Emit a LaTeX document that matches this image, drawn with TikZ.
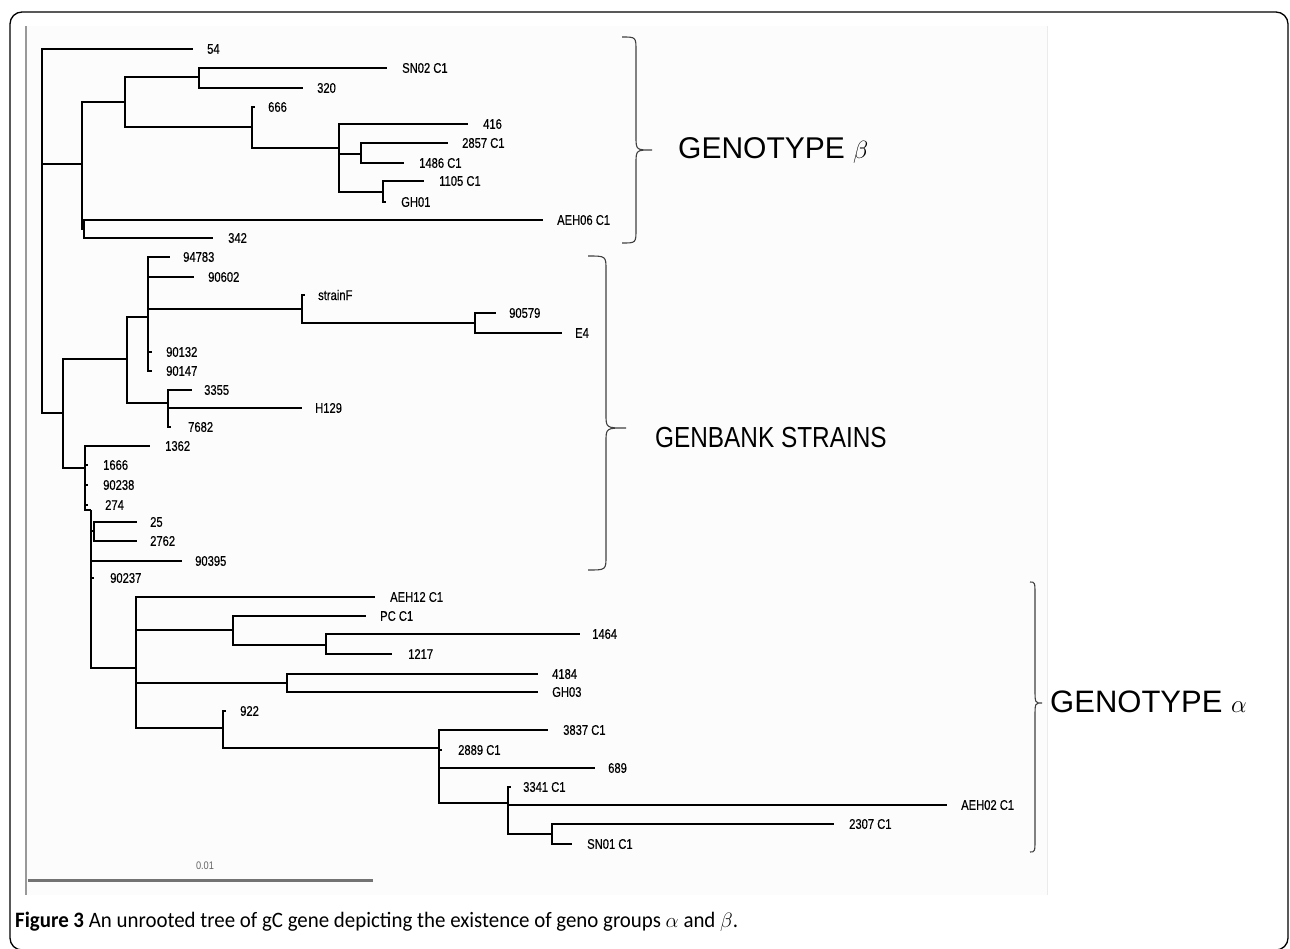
\documentclass[tikz,border=0pt]{standalone}
\usepackage{fontspec}
\setmainfont{Liberation Sans}
\newfontfamily\leaffont[FakeStretch=0.8,FakeBold=0.5]{Liberation Sans}
\newfontfamily\narrowfont[FakeStretch=0.84]{Liberation Sans}
\newfontfamily\capfont[FakeStretch=0.95]{Carlito}
\newcommand{\leafnode}[6]{\coordinate (t#1) at (#3,#4); \node[leaf] (l#1) at (#5,#4) {#6}; \draw[br] (#2) |- (t#1);}
\newcommand{\inode}[4]{\coordinate (#1) at (#3,#4); \draw[br] (#2) |- (#1);}
\newcommand{\bracepath}[6]{\draw[brace] (#1,#4) .. controls (#2,#4) .. (#2,#4+14) -- (#2,#5-14) .. controls (#2,#5) .. (#3,#5) .. controls (#2,#5) .. (#2,#5+14) -- (#2,#6-14) .. controls (#2,#6) .. (#1,#6);}
\begin{document}
\begin{tikzpicture}[x=1pt,y=-1pt,
  br/.style={line width=1.7pt},
  leaf/.style={anchor=west,inner sep=0pt,font=\leaffont\fontsize{14}{14}\selectfont},
  grp/.style={anchor=west,inner sep=0pt,font=\fontsize{30}{30}\selectfont},
  brace/.style={line width=1.1pt,draw=black!75}]
\useasboundingbox (0,0) rectangle (1290,948);
\fill[white] (0,0) rectangle (1290,948);
\fill[black!1] (26,26) rectangle (1047,895);
\draw[line width=0.8pt,black!8] (1047,26) -- (1047,895);
\draw[line width=2.5pt,black!40] (26,26) -- (26,895);
\draw[line width=1.3pt,rounded corners=12pt] (10,12) rectangle (1288,950);
% scale bar
\draw[line width=3pt,black!55] (28,880) -- (373,880);
\node[inner sep=0pt,font=\narrowfont\fontsize{11}{11}\selectfont,text=black!60] (sc) at (205,866) {0.01};
% root
\coordinate (R) at (42,164);
\leafnode{54}{R}{193}{49}{207}{54}
\coordinate (B) at (82,164); \draw[br] (R) -- (B);
\inode{G}{R}{63}{413}
% genotype beta part
\inode{B1}{B}{125}{102}
\inode{B2}{B}{84}{229}
\leafnode{AEH06}{B2}{543}{220}{557}{AEH06 C1}
\leafnode{342}{B2}{213}{238}{228}{342}
\inode{B11}{B1}{199}{77}
\inode{B12}{B1}{252}{127}
\leafnode{SN02}{B11}{387}{68}{402}{SN02 C1}
\leafnode{320}{B11}{303}{88}{317}{320}
\leafnode{666}{B12}{255}{107}{268}{666}
\inode{B121}{B12}{339}{148}
\leafnode{416}{B121}{468}{124}{483}{416}
\inode{B1211}{B121}{361}{154}
\inode{B1212}{B121}{383}{192}
\leafnode{2857}{B1211}{448}{143}{462}{2857 C1}
\leafnode{1486}{B1211}{404}{163}{419}{1486 C1}
\leafnode{1105}{B1212}{424}{181}{439}{1105 C1}
\leafnode{GH01}{B1212}{386}{202}{401}{GH01}
% genbank part
\inode{G1}{G}{127}{359}
\inode{G2}{G}{85}{468}
\inode{G11}{G1}{148}{317}
\inode{G12}{G1}{168}{403}
\leafnode{94783}{G11}{170}{257}{183}{94783}
\leafnode{90602}{G11}{194}{277}{208}{90602}
\inode{G111}{G11}{302}{309}
\leafnode{90132}{G11}{152}{352}{166}{90132}
\leafnode{90147}{G11}{152}{371}{166}{90147}
\leafnode{strainF}{G111}{305}{295}{318}{strainF}
\inode{G1111}{G111}{475}{323}
\leafnode{90579}{G1111}{496}{313}{509}{90579}
\leafnode{E4}{G1111}{562}{333}{575}{E4}
\leafnode{3355}{G12}{192}{390}{204}{3355}
\leafnode{H129}{G12}{302}{408}{315}{H129}
\leafnode{7682}{G12}{171}{427}{188}{7682}
\leafnode{1362}{G2}{150}{446}{165}{1362}
\leafnode{1666}{G2}{88}{465}{103}{1666}
\leafnode{90238}{G2}{88}{485}{103}{90238}
\leafnode{274}{G2}{88}{505}{105}{274}
\inode{G3}{G2}{91}{510}
\inode{G31}{G3}{94}{531}
\leafnode{25}{G31}{137}{522}{150}{25}
\leafnode{2762}{G31}{137}{541}{150}{2762}
\leafnode{90395}{G3}{182}{561}{195}{90395}
\leafnode{90237}{G3}{94}{578}{110}{90237}
% genotype alpha part
\inode{A}{G3}{136}{668}
\leafnode{AEH12}{A}{375}{597}{390}{AEH12 C1}
\inode{A1}{A}{233}{630}
\inode{A2}{A}{287}{683}
\inode{A3}{A}{223}{728}
\leafnode{PC}{A1}{366}{616}{380}{PC C1}
\inode{A11}{A1}{326}{645}
\leafnode{1464}{A11}{580}{634}{592}{1464}
\leafnode{1217}{A11}{392}{654}{408}{1217}
\leafnode{4184}{A2}{538}{674}{552}{4184}
\leafnode{GH03}{A2}{538}{692}{552}{GH03}
\leafnode{922}{A3}{226}{711}{240}{922}
\inode{A31}{A3}{439}{748}
\leafnode{3837}{A31}{548}{730}{563}{3837 C1}
\leafnode{2889}{A31}{442}{750}{458}{2889 C1}
\leafnode{689}{A31}{595}{768}{608}{689}
\inode{A32}{A31}{508}{803}
\leafnode{3341}{A32}{511}{787}{523}{3341 C1}
\leafnode{AEH02}{A32}{947}{805}{961}{AEH02 C1}
\inode{A321}{A32}{552}{834}
\leafnode{2307}{A321}{834}{824}{849}{2307 C1}
\leafnode{SN01}{A321}{572}{844}{587}{SN01 C1}
% braces and group labels
\bracepath{622}{636}{652}{37}{150}{243}
\node[grp] (gb) at (678,150) {GENOTYPE $\beta$};
\bracepath{588}{606}{626}{256}{428}{570}
\node[grp,font=\narrowfont\fontsize{29}{29}\selectfont] (gs) at (655,438) {GENBANK STRAINS};
\bracepath{1030}{1035}{1042}{582}{703}{852}
\node[grp,font=\fontsize{31}{31}\selectfont] (ga) at (1050,702) {GENOTYPE $\alpha$};
% caption
\node[anchor=west,inner sep=0pt,font=\capfont\fontsize{22}{22}\selectfont] (cap) at (15,922) {\textbf{Figure 3} An unrooted tree of gC gene depicting the existence of geno groups $\alpha$ and $\beta$.};
\end{tikzpicture}
\end{document}
